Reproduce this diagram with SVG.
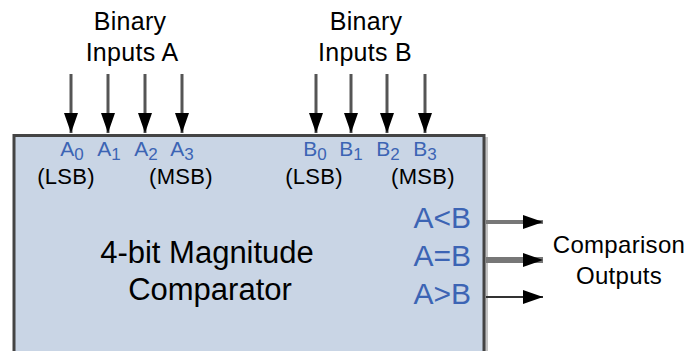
<svg xmlns="http://www.w3.org/2000/svg" width="691" height="351" viewBox="0 0 691 351">
<style>
text{font-family:"Liberation Sans",Arial,sans-serif}
.lbl{font-size:25px;fill:#000;text-anchor:middle;letter-spacing:0.3px}
.pin{font-size:21px;fill:#3c64b4;text-anchor:middle}
.sub{font-size:17px}
.sb{font-size:22px;fill:#000;text-anchor:middle;letter-spacing:0.3px}
.out{font-size:30px;fill:#3c64b4;text-anchor:end}
.title{font-size:31px;fill:#000;text-anchor:middle}
.in{stroke:#555;stroke-width:3;fill:none}
</style>
<defs>
<marker id="ah" markerWidth="20" markerHeight="14" refX="20" refY="7" orient="auto" markerUnits="userSpaceOnUse">
<path d="M0,0 L20,7 L0,14 Z" fill="#000"/>
</marker>
</defs>
<g id="comparator">
<rect x="485" y="137" width="3" height="214" fill="#c4c4c4"/>
<rect x="14" y="135.5" width="470" height="230" fill="#c9d5e5" stroke="#444" stroke-width="3"/>
<text class="title" x="207" y="263">4-bit Magnitude</text>
<text class="title" x="210" y="300">Comparator</text>
<text class="pin" x="72" y="156">A<tspan class="sub" dy="4">0</tspan></text>
<text class="pin" x="109" y="156">A<tspan class="sub" dy="4">1</tspan></text>
<text class="pin" x="146" y="156">A<tspan class="sub" dy="4">2</tspan></text>
<text class="pin" x="182" y="156">A<tspan class="sub" dy="4">3</tspan></text>
<text class="pin" x="315" y="156">B<tspan class="sub" dy="4">0</tspan></text>
<text class="pin" x="351" y="156">B<tspan class="sub" dy="4">1</tspan></text>
<text class="pin" x="388" y="156">B<tspan class="sub" dy="4">2</tspan></text>
<text class="pin" x="425" y="156">B<tspan class="sub" dy="4">3</tspan></text>
<text class="sb" x="66" y="184">(LSB)</text>
<text class="sb" x="181" y="184">(MSB)</text>
<text class="sb" x="314" y="184">(LSB)</text>
<text class="sb" x="423" y="184">(MSB)</text>
<text class="out" x="471" y="228">A&lt;B</text>
<text class="out" x="471" y="266">A=B</text>
<text class="out" x="471" y="304">A&gt;B</text>
</g>
<g id="label-a">
<text class="lbl" x="130" y="30">Binary</text>
<text class="lbl" x="132" y="61">Inputs A</text>
</g>
<g id="label-b">
<text class="lbl" x="366" y="30">Binary</text>
<text class="lbl" x="365" y="61">Inputs B</text>
</g>
<g id="label-out">
<text class="lbl" x="619" y="253" style="font-size:24px">Comparison</text>
<text class="lbl" x="619" y="284" style="font-size:24px">Outputs</text>
</g>
<g id="connectors">
<line class="in" x1="71" y1="74" x2="71" y2="133" marker-end="url(#ah)"/>
<line class="in" x1="108" y1="74" x2="108" y2="133" marker-end="url(#ah)"/>
<line class="in" x1="145" y1="74" x2="145" y2="133" stroke="#666" stroke-width="4" marker-end="url(#ah)"/>
<line class="in" x1="182" y1="74" x2="182" y2="133" marker-end="url(#ah)"/>
<line class="in" x1="316" y1="74" x2="316" y2="133" marker-end="url(#ah)"/>
<line class="in" x1="351" y1="74" x2="351" y2="133" marker-end="url(#ah)"/>
<line class="in" x1="387" y1="74" x2="387" y2="133" marker-end="url(#ah)"/>
<line class="in" x1="425" y1="74" x2="425" y2="133" stroke="#111" stroke-width="2" marker-end="url(#ah)"/>
<line x1="486" y1="222" x2="543" y2="222" stroke="#777" stroke-width="4" marker-end="url(#ah)"/>
<line x1="486" y1="260" x2="543" y2="260" stroke="#777" stroke-width="6" marker-end="url(#ah)"/>
<line x1="486" y1="297" x2="543" y2="297" stroke="#333" stroke-width="2" marker-end="url(#ah)"/>
</g>
</svg>
